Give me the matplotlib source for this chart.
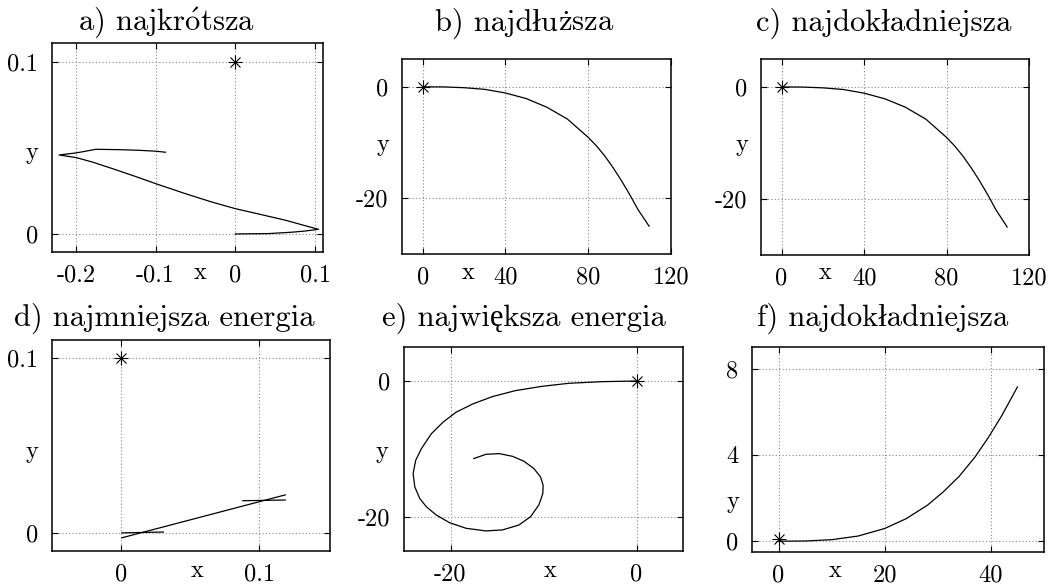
import matplotlib.pyplot as plt

plt.rcParams['font.family'] = ['cmr10', 'Liberation Serif']
plt.rcParams['axes.formatter.use_mathtext'] = True
plt.rcParams['mathtext.fontset'] = 'cm'

W, H = 1051, 586

# a) najkrótsza
a_x = [0.0, 0.0417, 0.0709, 0.0876, 0.1043, 0.0876, 0.0626, 0.0292, 0.0,
       -0.0292, -0.0626, -0.0997, -0.1252, -0.1544, -0.1794, -0.1998, -0.2211,
       -0.1998, -0.1877, -0.1752, -0.146, -0.120, -0.0997, -0.0876]
a_y = [0.0, 0.0002, 0.0010, 0.0017, 0.0027, 0.0048, 0.0080, 0.0116, 0.0147,
       0.0185, 0.0234, 0.0292, 0.0334, 0.0380, 0.0418, 0.0444, 0.0459,
       0.0471, 0.0481, 0.0492, 0.0490, 0.0486, 0.0481, 0.0475]
a_start = (0.0, 0.1)

# b) najdłuższa
b_x = [0, 10, 20, 30, 40, 50, 60, 70, 80, 84, 88, 92, 96, 100, 104, 109.4]
b_y = [0, -0.01, -0.15, -0.45, -1.1, -2.1, -3.65, -5.8, -9.07, -10.6, -12.4,
       -14.5, -16.8, -19.3, -22.0, -25.0]
b_start = (0, 0)

# c) najdokładniejsza
c_x = [0, 10, 20, 30, 40, 50, 60, 70, 80, 84, 88, 92, 96, 100, 104, 109.4]
c_y = [0, -0.01, -0.15, -0.45, -1.1, -2.1, -3.6, -5.75, -9.0, -10.55, -12.35,
       -14.45, -16.75, -19.25, -21.95, -25.0]
c_start = (0, 0)

# d) najmniejsza energia - three straight pieces
d_x = [[0.0305, 0.0005], [0.0005, 0.1186], [0.088, 0.1186]]
d_y = [[0.0008, 0.0003], [-0.0025, 0.0219], [0.0186, 0.0190]]
d_start = (0.0, 0.1)

# e) największa energia
e_x = [0, -3.74, -7.30, -10.14, -13.0, -15.48, -17.6, -19.4, -20.8, -22.06,
       -23.13, -23.74, -24.02, -23.84, -23.31, -22.6, -21.53, -20.11, -18.33,
       -16.19, -14.41, -12.63, -11.39, -10.5, -10.07, -10.04, -10.32, -11.03,
       -12.1, -13.35, -14.77, -16.19, -17.5]
e_y = [0, -0.10, -0.34, -0.78, -1.41, -2.29, -3.37, -4.59, -6.05, -7.76,
       -9.95, -11.66, -13.61, -15.56, -17.27, -18.49, -19.71, -20.83, -21.66,
       -22.05, -21.9, -21.17, -19.95, -18.24, -16.54, -15.32, -14.1, -12.88,
       -11.8, -11.07, -10.68, -10.78, -11.41]
e_start = (0, 0)

# f) najdokładniejsza
f_x = [0, 5, 10, 15, 20, 24, 28, 31, 34, 37, 39.5, 42, 45]
f_y = [0, 0.01, 0.07, 0.24, 0.59, 1.04, 1.66, 2.28, 3.0, 3.9, 4.8, 5.8, 7.15]
f_start = (0, 0.08)

# titles, split in pieces: ó and ż go through mathtext accents so they stay
# in the CM font, ł and ę come from the normal font list
titles = [['a) najkr$\\acute{\\mathrm{o}}$tsza'],
          ['b) najdłu', '$\\dot{\\mathrm{z}}$sza'],
          ['c) najdokładniejsza'],
          ['d) najmniejsza energia'],
          ['e) największa energia'],
          ['f) najdokładniejsza']]


def box(l, t, r, b):
    return [l / W, 1 - b / H, (r - l) / W, (b - t) / H]


def ftext(fig, px, py, s, size):
    fig.text(px / W, 1 - py / H, s, ha='center', va='center', fontsize=size)


def title(fig, px, base, parts, size):
    # draw pieces next to each other, centred on px, baseline at base
    r = fig.canvas.get_renderer()
    ts = [fig.text(0, 1 - base / H, p, fontsize=size, ha='left', va='baseline')
          for p in parts]
    ws = [t.get_window_extent(r).width for t in ts]
    x = px - sum(ws) / 2
    for t, w in zip(ts, ws):
        t.set_x(x / W)
        x += w


def setup(ax, xlim, ylim, xticks, xlabels, yticks, ylabels):
    ax.set_xlim(xlim)
    ax.set_ylim(ylim)
    ax.set_xticks(xticks)
    ax.set_xticklabels(xlabels)
    ax.set_yticks(yticks)
    ax.set_yticklabels(ylabels)
    ax.grid(True, color='#888888', linestyle=(0, (1, 2)), linewidth=0.8)
    ax.tick_params(direction='in', length=4, width=0.8, top=True, right=True,
                   labelsize=17.5)
    ax.tick_params(axis='x', pad=9)
    ax.tick_params(axis='y', pad=10)
    for s in ax.spines.values():
        s.set_linewidth(1.1)


def star(ax, p):
    ax.plot(p[0], p[1], marker='+', ms=10, mew=0.8, color='black')
    ax.plot(p[0], p[1], marker='x', ms=7, mew=0.8, color='black')


fig = plt.figure(figsize=(W / 100, H / 100), dpi=100)
TS = 22
LS = 17.5

ax = fig.add_axes(box(52, 43, 323, 252))
setup(ax, (-0.23, 0.11), (-0.0105, 0.111), [-0.2, -0.1, 0, 0.1],
      ['-0.2', '-0.1', '0', '0.1'], [0, 0.1], ['0', '0.1'])
ax.plot(a_x, a_y, color='black', lw=0.9)
star(ax, a_start)
title(fig, 166, 31, titles[0], TS)
ftext(fig, 32, 153, 'y', LS)
ftext(fig, 200, 273, 'x', LS)

ax = fig.add_axes(box(402, 59, 671, 254))
setup(ax, (-10, 120), (-30, 5), [0, 40, 80, 120], ['0', '40', '80', '120'],
      [-20, 0], ['-20', '0'])
ax.plot(b_x, b_y, color='black', lw=0.9)
star(ax, b_start)
title(fig, 525, 31, titles[1], TS)
ftext(fig, 383, 145, 'y', LS)
ftext(fig, 468, 273, 'x', LS)

ax = fig.add_axes(box(761, 59, 1029, 255))
setup(ax, (-10, 120), (-30, 5), [0, 40, 80, 120], ['0', '40', '80', '120'],
      [-20, 0], ['-20', '0'])
ax.plot(c_x, c_y, color='black', lw=0.9)
star(ax, c_start)
title(fig, 884, 31, titles[2], TS)
ftext(fig, 742, 145, 'y', LS)
ftext(fig, 825, 273, 'x', LS)

ax = fig.add_axes(box(52, 340, 330, 551))
setup(ax, (-0.05, 0.151), (-0.01, 0.11), [0, 0.1], ['0', '0.1'],
      [0, 0.1], ['0', '0.1'])
for xs, ys in zip(d_x, d_y):
    ax.plot(xs, ys, color='black', lw=0.9)
star(ax, d_start)
title(fig, 164, 326, titles[3], TS)
ftext(fig, 32, 452, 'y', LS)
ftext(fig, 197, 571, 'x', LS)

ax = fig.add_axes(box(404, 347, 683, 551))
setup(ax, (-25, 5), (-25, 5), [-20, 0], ['-20', '0'], [-20, 0], ['-20', '0'])
ax.plot(e_x, e_y, color='black', lw=0.9)
star(ax, e_start)
title(fig, 524, 326, titles[4], TS)
ftext(fig, 382, 452, 'y', LS)
ftext(fig, 550, 571, 'x', LS)

ax = fig.add_axes(box(752, 347, 1044, 552))
setup(ax, (-5, 50), (-0.5, 9), [0, 20, 40], ['0', '20', '40'],
      [0, 4, 8], ['0', '4', '8'])
ax.plot(f_x, f_y, color='black', lw=0.9)
star(ax, f_start)
title(fig, 883, 326, titles[5], TS)
ftext(fig, 733, 502, 'y', LS)
ftext(fig, 835, 571, 'x', LS)

fig.savefig('out.png', dpi=100)
